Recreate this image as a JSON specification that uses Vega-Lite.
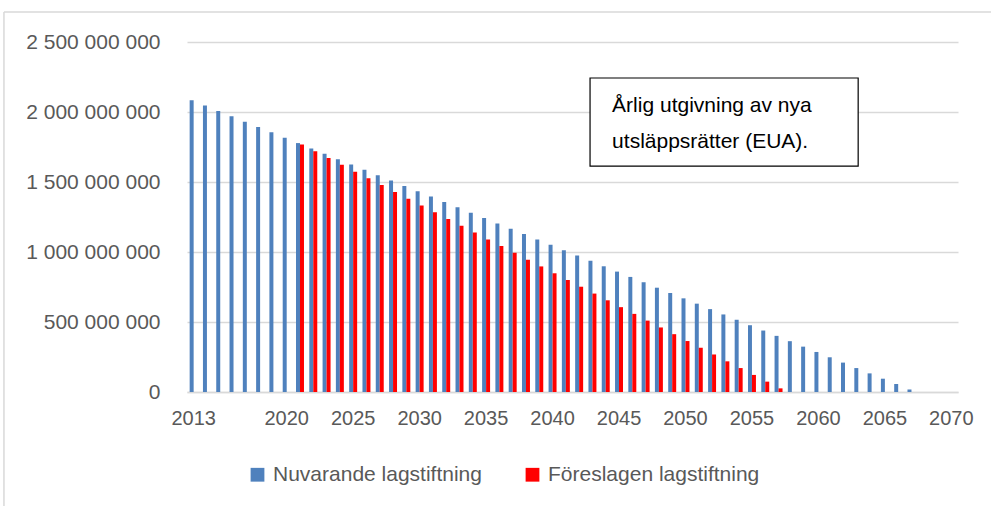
{
  "$schema": "https://vega.github.io/schema/vega-lite/v6.json",
  "autosize": {"type": "none"},
  "width": 771,
  "height": 350,
  "padding": {"left": 187, "top": 42, "right": 33, "bottom": 114},
  "background": "white",
  "config": {
    "view": {"stroke": null},
    "font": "Liberation Sans",
    "locale": {"number": {"decimal": ",", "thousands": " ", "grouping": [3], "currency": ["", " kr"]}}
  },
  "datasets": {
    "bars": [
      {"year": 2013, "series": "Nuvarande lagstiftning", "value": 2084000000},
      {"year": 2014, "series": "Nuvarande lagstiftning", "value": 2046000000},
      {"year": 2015, "series": "Nuvarande lagstiftning", "value": 2008000000},
      {"year": 2016, "series": "Nuvarande lagstiftning", "value": 1970000000},
      {"year": 2017, "series": "Nuvarande lagstiftning", "value": 1931000000},
      {"year": 2018, "series": "Nuvarande lagstiftning", "value": 1893000000},
      {"year": 2019, "series": "Nuvarande lagstiftning", "value": 1855000000},
      {"year": 2020, "series": "Nuvarande lagstiftning", "value": 1816000000},
      {"year": 2021, "series": "Nuvarande lagstiftning", "value": 1778000000},
      {"year": 2022, "series": "Nuvarande lagstiftning", "value": 1740000000},
      {"year": 2023, "series": "Nuvarande lagstiftning", "value": 1702000000},
      {"year": 2024, "series": "Nuvarande lagstiftning", "value": 1663000000},
      {"year": 2025, "series": "Nuvarande lagstiftning", "value": 1625000000},
      {"year": 2026, "series": "Nuvarande lagstiftning", "value": 1587000000},
      {"year": 2027, "series": "Nuvarande lagstiftning", "value": 1549000000},
      {"year": 2028, "series": "Nuvarande lagstiftning", "value": 1510000000},
      {"year": 2029, "series": "Nuvarande lagstiftning", "value": 1472000000},
      {"year": 2030, "series": "Nuvarande lagstiftning", "value": 1434000000},
      {"year": 2031, "series": "Nuvarande lagstiftning", "value": 1396000000},
      {"year": 2032, "series": "Nuvarande lagstiftning", "value": 1357000000},
      {"year": 2033, "series": "Nuvarande lagstiftning", "value": 1319000000},
      {"year": 2034, "series": "Nuvarande lagstiftning", "value": 1281000000},
      {"year": 2035, "series": "Nuvarande lagstiftning", "value": 1243000000},
      {"year": 2036, "series": "Nuvarande lagstiftning", "value": 1204000000},
      {"year": 2037, "series": "Nuvarande lagstiftning", "value": 1166000000},
      {"year": 2038, "series": "Nuvarande lagstiftning", "value": 1128000000},
      {"year": 2039, "series": "Nuvarande lagstiftning", "value": 1090000000},
      {"year": 2040, "series": "Nuvarande lagstiftning", "value": 1051000000},
      {"year": 2041, "series": "Nuvarande lagstiftning", "value": 1013000000},
      {"year": 2042, "series": "Nuvarande lagstiftning", "value": 975000000},
      {"year": 2043, "series": "Nuvarande lagstiftning", "value": 937000000},
      {"year": 2044, "series": "Nuvarande lagstiftning", "value": 898000000},
      {"year": 2045, "series": "Nuvarande lagstiftning", "value": 860000000},
      {"year": 2046, "series": "Nuvarande lagstiftning", "value": 822000000},
      {"year": 2047, "series": "Nuvarande lagstiftning", "value": 784000000},
      {"year": 2048, "series": "Nuvarande lagstiftning", "value": 745000000},
      {"year": 2049, "series": "Nuvarande lagstiftning", "value": 707000000},
      {"year": 2050, "series": "Nuvarande lagstiftning", "value": 669000000},
      {"year": 2051, "series": "Nuvarande lagstiftning", "value": 631000000},
      {"year": 2052, "series": "Nuvarande lagstiftning", "value": 592000000},
      {"year": 2053, "series": "Nuvarande lagstiftning", "value": 554000000},
      {"year": 2054, "series": "Nuvarande lagstiftning", "value": 516000000},
      {"year": 2055, "series": "Nuvarande lagstiftning", "value": 477000000},
      {"year": 2056, "series": "Nuvarande lagstiftning", "value": 439000000},
      {"year": 2057, "series": "Nuvarande lagstiftning", "value": 401000000},
      {"year": 2058, "series": "Nuvarande lagstiftning", "value": 363000000},
      {"year": 2059, "series": "Nuvarande lagstiftning", "value": 324000000},
      {"year": 2060, "series": "Nuvarande lagstiftning", "value": 286000000},
      {"year": 2061, "series": "Nuvarande lagstiftning", "value": 248000000},
      {"year": 2062, "series": "Nuvarande lagstiftning", "value": 210000000},
      {"year": 2063, "series": "Nuvarande lagstiftning", "value": 171000000},
      {"year": 2064, "series": "Nuvarande lagstiftning", "value": 133000000},
      {"year": 2065, "series": "Nuvarande lagstiftning", "value": 95000000},
      {"year": 2066, "series": "Nuvarande lagstiftning", "value": 57000000},
      {"year": 2067, "series": "Nuvarande lagstiftning", "value": 18000000},
      {"year": 2021, "series": "Föreslagen lagstiftning", "value": 1768000000},
      {"year": 2022, "series": "Föreslagen lagstiftning", "value": 1720000000},
      {"year": 2023, "series": "Föreslagen lagstiftning", "value": 1671000000},
      {"year": 2024, "series": "Föreslagen lagstiftning", "value": 1623000000},
      {"year": 2025, "series": "Föreslagen lagstiftning", "value": 1574000000},
      {"year": 2026, "series": "Föreslagen lagstiftning", "value": 1526000000},
      {"year": 2027, "series": "Föreslagen lagstiftning", "value": 1478000000},
      {"year": 2028, "series": "Föreslagen lagstiftning", "value": 1429000000},
      {"year": 2029, "series": "Föreslagen lagstiftning", "value": 1381000000},
      {"year": 2030, "series": "Föreslagen lagstiftning", "value": 1332000000},
      {"year": 2031, "series": "Föreslagen lagstiftning", "value": 1284000000},
      {"year": 2032, "series": "Föreslagen lagstiftning", "value": 1236000000},
      {"year": 2033, "series": "Föreslagen lagstiftning", "value": 1187000000},
      {"year": 2034, "series": "Föreslagen lagstiftning", "value": 1139000000},
      {"year": 2035, "series": "Föreslagen lagstiftning", "value": 1090000000},
      {"year": 2036, "series": "Föreslagen lagstiftning", "value": 1042000000},
      {"year": 2037, "series": "Föreslagen lagstiftning", "value": 994000000},
      {"year": 2038, "series": "Föreslagen lagstiftning", "value": 945000000},
      {"year": 2039, "series": "Föreslagen lagstiftning", "value": 897000000},
      {"year": 2040, "series": "Föreslagen lagstiftning", "value": 848000000},
      {"year": 2041, "series": "Föreslagen lagstiftning", "value": 800000000},
      {"year": 2042, "series": "Föreslagen lagstiftning", "value": 752000000},
      {"year": 2043, "series": "Föreslagen lagstiftning", "value": 703000000},
      {"year": 2044, "series": "Föreslagen lagstiftning", "value": 655000000},
      {"year": 2045, "series": "Föreslagen lagstiftning", "value": 606000000},
      {"year": 2046, "series": "Föreslagen lagstiftning", "value": 558000000},
      {"year": 2047, "series": "Föreslagen lagstiftning", "value": 510000000},
      {"year": 2048, "series": "Föreslagen lagstiftning", "value": 461000000},
      {"year": 2049, "series": "Föreslagen lagstiftning", "value": 413000000},
      {"year": 2050, "series": "Föreslagen lagstiftning", "value": 364000000},
      {"year": 2051, "series": "Föreslagen lagstiftning", "value": 316000000},
      {"year": 2052, "series": "Föreslagen lagstiftning", "value": 268000000},
      {"year": 2053, "series": "Föreslagen lagstiftning", "value": 219000000},
      {"year": 2054, "series": "Föreslagen lagstiftning", "value": 171000000},
      {"year": 2055, "series": "Föreslagen lagstiftning", "value": 122000000},
      {"year": 2056, "series": "Föreslagen lagstiftning", "value": 74000000},
      {"year": 2057, "series": "Föreslagen lagstiftning", "value": 26000000}
    ],
    "one": [{}]
  },
  "layer": [
    {
      "data": {"name": "bars"},
      "mark": {"type": "bar"},
      "encoding": {
        "x": {
          "field": "year",
          "type": "ordinal",
          "scale": {
            "domain": [2013,2014,2015,2016,2017,2018,2019,2020,2021,2022,2023,2024,2025,2026,2027,2028,2029,2030,2031,2032,2033,2034,2035,2036,2037,2038,2039,2040,2041,2042,2043,2044,2045,2046,2047,2048,2049,2050,2051,2052,2053,2054,2055,2056,2057,2058,2059,2060,2061,2062,2063,2064,2065,2066,2067,2068,2069,2070],
            "paddingInner": 0.4,
            "paddingOuter": 0.2
          },
          "axis": {
            "title": null,
            "values": [2013,2020,2025,2030,2035,2040,2045,2050,2055,2060,2065,2070],
            "labelAngle": 0,
            "ticks": false,
            "labelFontSize": 20,
            "labelColor": "#595959",
            "labelPadding": 16,
            "domainColor": "#d9d9d9",
            "domainWidth": 1.5,
            "grid": false
          }
        },
        "xOffset": {
          "field": "series",
          "type": "nominal",
          "scale": {"domain": ["Nuvarande lagstiftning", "Föreslagen lagstiftning"], "paddingInner": 0, "paddingOuter": 0}
        },
        "y": {
          "field": "value",
          "type": "quantitative",
          "scale": {"domain": [0, 2500000000], "nice": false},
          "axis": {
            "title": null,
            "values": [0, 500000000, 1000000000, 1500000000, 2000000000, 2500000000],
            "format": ",d",
            "domain": false,
            "ticks": false,
            "labelFontSize": 21,
            "labelColor": "#595959",
            "labelPadding": 27,
            "gridColor": "#d9d9d9",
            "gridWidth": 1.5
          }
        },
        "color": {
          "field": "series",
          "type": "nominal",
          "scale": {"domain": ["Nuvarande lagstiftning", "Föreslagen lagstiftning"], "range": ["#4f81bd", "#ff0000"]},
          "legend": {
            "title": null,
            "orient": "none",
            "legendX": 60,
            "legendY": 422,
            "direction": "horizontal",
            "symbolType": "square",
            "symbolSize": 190,
            "symbolStrokeWidth": 0,
            "labelFontSize": 21,
            "labelColor": "#595959",
            "labelOffset": 5,
            "labelLimit": 400,
            "columnPadding": 40
          }
        }
      }
    },
    {
      "data": {"name": "one"},
      "mark": {"type": "rule", "color": "#d9d9d9", "strokeWidth": 1.5},
      "encoding": {
        "x": {"datum": 1998.73, "type": "quantitative", "scale": {"domain": [2012.5, 2070.5], "nice": false, "zero": false}, "axis": null},
        "x2": {"datum": 2090},
        "y": {"datum": 2714000000, "type": "quantitative", "scale": {"domain": [0, 2500000000], "nice": false}}
      }
    },
    {
      "data": {"name": "one"},
      "mark": {"type": "rule", "color": "#d9d9d9", "strokeWidth": 1.5},
      "encoding": {
        "x": {"datum": 1998.73, "type": "quantitative", "scale": {"domain": [2012.5, 2070.5], "nice": false, "zero": false}, "axis": null},
        "y": {"datum": 2714000000, "type": "quantitative", "scale": {"domain": [0, 2500000000], "nice": false}},
        "y2": {"datum": -1200000000}
      }
    },
    {
      "data": {"name": "one"},
      "mark": {"type": "rect", "fill": "white", "stroke": "black", "strokeWidth": 1.2},
      "encoding": {
        "x": {"datum": 2042.82, "type": "quantitative", "scale": {"domain": [2012.5, 2070.5], "nice": false, "zero": false}, "axis": null},
        "x2": {"datum": 2062.99},
        "y": {"datum": 2243000000, "type": "quantitative", "scale": {"domain": [0, 2500000000], "nice": false}},
        "y2": {"datum": 1614000000}
      }
    },
    {
      "data": {"name": "one"},
      "mark": {"type": "text", "align": "left", "baseline": "alphabetic", "fontSize": 21, "lineHeight": 36, "color": "black", "font": "Liberation Sans", "text": ["Årlig utgivning av nya", "utsläppsrätter (EUA)."]},
      "encoding": {
        "x": {"datum": 2044.48, "type": "quantitative", "scale": {"domain": [2012.5, 2070.5], "nice": false, "zero": false}, "axis": null},
        "y": {"datum": 2000000000, "type": "quantitative", "scale": {"domain": [0, 2500000000], "nice": false}}
      }
    }
  ],
  "resolve": {"scale": {"x": "independent"}}
}
